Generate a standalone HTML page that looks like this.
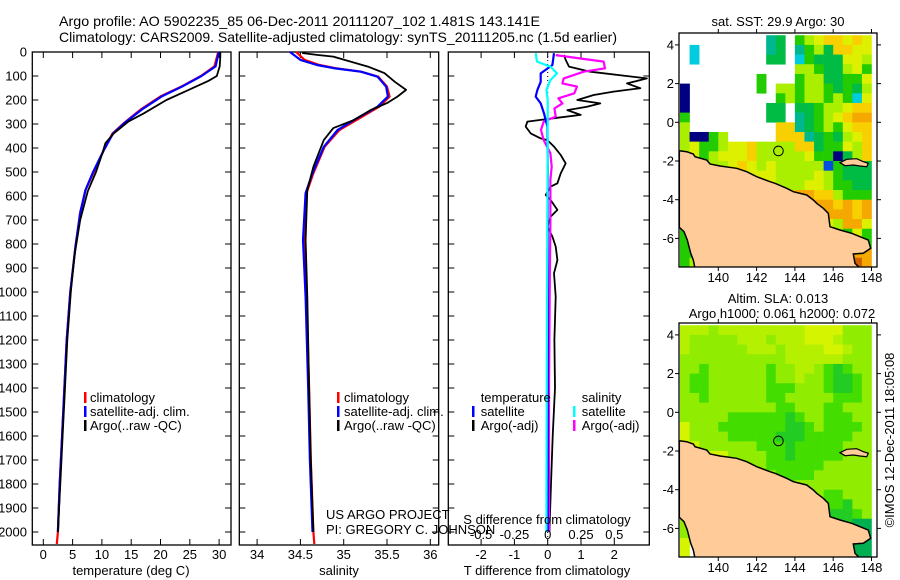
<!DOCTYPE html>
<html><head><meta charset="utf-8"><style>
html,body{margin:0;padding:0;background:#fff;}
svg{display:block;font-family:"Liberation Sans",sans-serif;}
</style></head><body>
<svg id="fig" width="900" height="580" viewBox="0 0 900 580" xmlns="http://www.w3.org/2000/svg">
<rect x="0" y="0" width="900" height="580" fill="#fff"/>
<text x="59" y="26" font-size="14" textLength="481" lengthAdjust="spacingAndGlyphs">Argo profile: AO 5902235_85 06-Dec-2011 20111207_102 1.481S 143.141E</text>
<text x="59" y="42" font-size="14" textLength="558" lengthAdjust="spacingAndGlyphs">Climatology: CARS2009. Satellite-adjusted climatology: synTS_20111205.nc (1.5d earlier)</text>
<g id="panels"></g>
<g id="maps"></g>
<text transform="translate(894,440) rotate(-90)" text-anchor="middle" font-size="13">©IMOS 12-Dec-2011 18:05:08</text>
</svg>
<script>
// ---------- data ----------
const depthTicks = [0,100,200,300,400,500,600,700,800,900,1000,1100,1200,1300,1400,1500,1600,1700,1800,1900,2000];
const tempTicks = [0,5,10,15,20,25,30];
const saltTicks = [34,34.5,35,35.5,36];
const saltTickLabels = ['34','34.5','35','35.5','36'];
const tdiffTicks = [-2,-1,0,1,2];
const sdiffTicks = [-0.5,-0.25,0,0.25,0.5];
const sdiffTickLabels = ['-0.5','-0.25','0','0.25','0.5'];

const climTDepth = [0,5,60,100,145,185,240,295,340,410,500,575,670,810,1000,1200,1400,1600,1800,2000,2050];
const climTemp   = [29.9,29.8,29.2,26.9,23.5,20.0,16.6,13.8,11.8,10.3,8.6,7.2,6.3,5.5,4.6,4.0,3.6,3.2,2.8,2.5,2.3];
const satTemp    = [30.0,29.9,29.4,27.0,23.6,20.2,16.8,13.9,11.9,10.3,8.5,7.2,6.3,5.5,4.6,4.0,3.6,3.2,2.8,2.5,2.4];
const argoTDepth = [0,20,60,100,120,160,200,255,290,340,380,420,500,580,700,850,1000,1200,1400,1600,1800,2000];
const argoTemp   = [30.2,30.2,30.1,29.6,28.2,24.6,21.0,17.2,14.5,12.0,10.6,10.1,9.0,7.6,6.3,5.3,4.7,4.1,3.7,3.3,2.9,2.5];

const climSDepth = [0,33,54,67,82,103,144,186,228,283,325,395,505,588,783,1020,1400,1700,2000,2050];
const satSalt    = [34.38,34.5,34.69,34.88,35.2,35.39,35.49,35.51,35.39,35.12,34.93,34.77,34.64,34.56,34.53,34.56,34.59,34.61,34.64,34.65];
const climSalt   = [34.45,34.55,34.72,34.9,35.2,35.4,35.5,35.53,35.41,35.15,34.95,34.78,34.65,34.57,34.54,34.57,34.6,34.62,34.65,34.66];
const argoSDepth = [4,12,19,40,61,88,124,158,186,213,242,283,317,367,478,575,783,1020,1400,1700,2000];
const argoSalt   = [34.52,34.69,34.88,35.08,35.28,35.47,35.59,35.72,35.62,35.5,35.31,35.12,34.88,34.77,34.65,34.58,34.56,34.58,34.6,34.62,34.65];

const argoTdDepth = [12,33,61,82,110,131,151,165,179,200,214,228,242,262,276,283,290,311,339,360,367,394,429,464,506,547,561,596,617,658,686,728,769,811,867,922,1019,1200,1400,1600,1800,2000];
const argoTdiff   = [0.49,0.54,0.64,1.28,2.98,2.38,2.78,1.98,1.38,0.89,1.58,1.18,0.59,0.99,0.19,-0.21,-0.61,-0.66,-0.51,-0.21,-0.01,0.19,0.39,0.54,0.39,0.29,0.09,-0.06,0.09,0.29,0.09,-0.01,0.14,0.24,0.29,0.19,0.24,0.2,0.22,0.15,0.1,0.05];
const argoSdDepth = [13,40,68,82,110,131,144,172,193,214,235,269,290,325,367,422,478,533,700,1000,1400,2000];
const argoSdiff   = [0.06,0.42,0.43,0.27,0.12,0.11,0.22,0.2,0.08,0.11,0.05,0.06,-0.03,-0.05,-0.03,0.02,0.03,0.02,0.02,0.015,0.01,0.01];
const satTdDepth = [5,54,89,124,158,186,214,256,311,500,1000,2000];
const satTdiff   = [0.19,0.14,-0.21,-0.21,-0.31,-0.36,-0.21,-0.11,-0.01,0,0,0];
const satSdDepth = [5,40,61,89,117,158,200,367,1000,2000];
const satSdiff   = [-0.09,-0.08,0.02,0.07,0.02,-0.01,0,0,-0.005,-0.01];

// map grids (0.5 deg cells, rows from lat 4.5 southward, cols from lon 138 eastward)
const sstGrid = [
".........tG.glyooyoy",
".c.......tG.tglGooyy",
".c.......GG.cgGGGyyl",
"............llgGGlyg",
"........g...gllGGggy",
"b.......g.llgllgGgGl",
"b.........glgllglgcy",
"b........GG.GGgllyoo",
"g........GG.tGglyoOO",
"l.........ootGglgyoo",
"lbbgl.....oootGgGlyo",
"lygglyyollllooGggylo",
"lyglyyyolllllyggbGlo",
"yyyllyoylylllllBgGGG",
"yyyllloyyyllllylgGGG",
"yyyyloooyylllyylggGG",
"yyyyyyyyooyoOOoolggg",
"yyyyyyyyyyyoOOOOoOoO",
"yyyyyyyyyyyyyyyOOOoO",
"...yyyyyyyyyyyyylOOy",
"gy..............lgyg",
"gg..............llgg",
"gg...............OOO",
"gl...............OrO"];
const slaGrid = [
"lllLlllllllllyyyyLLL",
"lLLLLLlllLlllyyylLLL",
"lLLLLLLlllLllllyylLL",
"LLLLLLLLLLLllllllLLL",
"LLgLLLLLLgLLllLgGgLL",
"LggLLLLLLgLLlLLgGGgL",
"LggLLLLLLgggLLLgGGgL",
"LLgLLLLLLggLLLLLgggL",
"LLLLLLLLLLggLLLggLLL",
"LLLLLggggggGgLLgggLL",
"yLLLgggggggGGgLggggL",
"yLLLLgggggGGGgggggLL",
"yyLLLLLLgggGgggggLLL",
"yyyyyLLLLggGgggggLLL",
"yyyyLLLLLggggggLLLLL",
"LLLLLLLLLLggggLLLLLL",
"LLLLLLLLLLLgLLLLLLLL",
"LLLLLLLLLLLLLLLggLLL",
"LLLLLLLLLLLLLLgggGLL",
"LLLLLLLLLLLLLLGGGGgL",
"LLLLLLLLLLLLLLLGGGdd",
"LLLLLLLLLLLLLLLGGddd",
"y...............dddd",
"y...............dddd"];
const lonTicks = [140,142,144,146,148];
const latTicks = [4,2,0,-2,-4,-6];
const argoLon = 143.141, argoLat = -1.481;

// ---------- helpers ----------
const NS='http://www.w3.org/2000/svg';
function el(tag, attrs, parent){const e=document.createElementNS(NS,tag);for(const k in attrs)e.setAttribute(k,attrs[k]);parent.appendChild(e);return e;}
const panels=document.getElementById('panels');
const Y0=52, PB=545;
const yD = d => Y0 + d*0.24;
const xT = t => 43.3 + t*5.86;
const xS = s => 300.4 + (s-34.5)*86.6;
const xTd = v => 547.7 + v*33.3;
const xSd = v => 547.7 + v*133.2;

function line(xs, ds, fx, color, name, w){
  const pts = xs.map((v,i)=> fx(v).toFixed(1)+','+yD(ds[i]).toFixed(1)).join(' ');
  const p = el('polyline',{points:pts,fill:'none',stroke:color,'stroke-width':w||2,'stroke-linejoin':'round'},panels);
  
  
}
function box(x0,x1,name){
  const r = el('rect',{x:x0,y:Y0,width:x1-x0,height:PB-Y0,fill:'none',stroke:'#000','stroke-width':1.3},panels);
  
  
  depthTicks.forEach(d=>{
    el('line',{x1:x0,x2:x0+6,y1:yD(d),y2:yD(d),stroke:'#000','stroke-width':1},panels);
    el('line',{x1:x1-6,x2:x1,y1:yD(d),y2:yD(d),stroke:'#000','stroke-width':1},panels);
  });
}
function xticks(vals, labels, fx, name, x0, x1){
  vals.forEach((v,i)=>{
    const x=fx(v);
    el('line',{x1:x,x2:x,y1:PB,y2:PB-6,stroke:'#000','stroke-width':1},panels);
    el('line',{x1:x,x2:x,y1:Y0,y2:Y0+6,stroke:'#000','stroke-width':1},panels);
    const t=el('text',{x:x,y:559,'font-size':13,'text-anchor':'middle'},panels);
    t.textContent=labels[i];
    
    
  });
}
function txt(x,y,s,name,opts){
  const t=el('text',Object.assign({x:x,y:y,'font-size':13},opts||{}),panels);
  t.textContent=s;
  
  
  return t;
}
function legBar(x,y,color,name){
  const r=el('rect',{x:x,y:y-10,width:2.5,height:11,fill:color},panels);
  
  
}

// y-axis labels
depthTicks.forEach(d=>{
  const t=txt(27,yD(d)+4.5,String(d),'depth-tick-label',{'text-anchor':'end'});
});

// panel 1 temperature
box(32.3,231,'temperature-panel');
xticks(tempTicks, tempTicks.map(String), xT, 'temperature-tick-label');
line(climTemp, climTDepth, xT, '#ff0000', 'climatology-temperature-line', 2.2);
line(satTemp.slice(0,20), climTDepth.slice(0,20), xT, '#0000ff', 'satellite-temperature-line', 2.2);
line(argoTemp, argoTDepth, xT, '#000', 'argo-temperature-line', 1.8);
txt(131,575,'temperature (deg C)','temperature-axis-title',{'text-anchor':'middle'});
legBar(84,402,'#ff0000','legend-climatology-swatch'); txt(90,402,'climatology','legend-climatology');
legBar(84,416,'#0000ff','legend-satellite-swatch'); txt(90,416,'satellite-adj. clim.','legend-satellite');
legBar(84,430,'#000','legend-argo-swatch'); txt(90,430,'Argo(..raw -QC)','legend-argo');

// panel 2 salinity
box(239.3,438.7,'salinity-panel');
xticks(saltTicks, saltTickLabels, xS, 'salinity-tick-label');
line(climSalt, climSDepth, xS, '#ff0000', 'climatology-salinity-line', 2.2);
line(satSalt.slice(0,19), climSDepth.slice(0,19), xS, '#0000ff', 'satellite-salinity-line', 2.2);
line(argoSalt, argoSDepth, xS, '#000', 'argo-salinity-line', 1.8);
txt(339,575,'salinity','salinity-axis-title',{'text-anchor':'middle'});
legBar(337,402,'#ff0000','legend2-climatology-swatch'); txt(344,402,'climatology','legend2-climatology');
legBar(337,416,'#0000ff','legend2-satellite-swatch'); txt(344,416,'satellite-adj. clim.','legend2-satellite');
legBar(337,430,'#000','legend2-argo-swatch'); txt(344,430,'Argo(..raw -QC)','legend2-argo');
txt(326,519,'US ARGO PROJECT','project-label');
txt(326,534,'PI: GREGORY C. JOHNSON','pi-label');

// panel 3 differences
box(448.3,649.3,'difference-panel');
xticks(tdiffTicks, tdiffTicks.map(String), xTd, 'tdiff-tick-label');
el('line',{x1:xTd(0),x2:xTd(0),y1:Y0,y2:PB,stroke:'#000','stroke-width':1,'stroke-dasharray':'1,3'},panels);
line(argoTdiff, argoTdDepth, xTd, '#000', 'argo-tdiff-line', 1.8);
line(argoSdiff, argoSdDepth, xSd, '#ff00ff', 'argo-sdiff-line', 2.2);
line(satTdiff, satTdDepth, xTd, '#0000ff', 'satellite-tdiff-line', 2.2);
line(satSdiff, satSdDepth, xSd, '#00ffff', 'satellite-sdiff-line', 2.2);
sdiffTicks.forEach((v,i)=>{ txt(xSd(v),539,sdiffTickLabels[i],'sdiff-tick-label',{'text-anchor':'middle'}); });
txt(547,524,'S difference from climatology','sdiff-axis-title',{'text-anchor':'middle'});
txt(547,575,'T difference from climatology','tdiff-axis-title',{'text-anchor':'middle'});
txt(480.7,402,'temperature','legend3-temperature-heading');
legBar(472,416,'#0000ff','legend3-tsat-swatch'); txt(480.7,416,'satellite','legend3-tsat');
legBar(472,430,'#000','legend3-targo-swatch'); txt(480.7,430,'Argo(-adj)','legend3-targo');
txt(581.7,402,'salinity','legend3-salinity-heading');
legBar(573,416,'#00ffff','legend3-ssat-swatch'); txt(581.7,416,'satellite','legend3-ssat');
legBar(573,430,'#ff00ff','legend3-sargo-swatch'); txt(581.7,430,'Argo(-adj)','legend3-sargo');

// ---------- maps ----------
const maps=document.getElementById('maps');
const sstColors={'.':null,t:'#00b890',G:'#00bb44',g:'#22cc00',l:'#aaee00',y:'#ddf000',o:'#f8d000',O:'#f4a800',r:'#d06000',c:'#00ccdd',b:'#000080',B:'#0050e0'};
const slaColors={'.':null,y:'#d4f400',l:'#b4f000',L:'#90ec00',g:'#44dd00',G:'#22cc22',d:'#00b050'};
const MX0=679, MX1=877;
const xLon = lon => 718.3 + (lon-140)*19.15;
function makeMap(grid, colors, top, name, circleName){
  const lat2y = lat => top + 89.3 - lat*19.35;
  const g=el('g',{},maps);
  
  
  const cid='clip'+top;
  const cp=el('clipPath',{id:cid},g);
  el('rect',{x:MX0,y:top,width:MX1-MX0,height:234},cp);
  const inner=el('g',{'clip-path':'url(#'+cid+')'},g);
  grid.forEach((row,j)=>{
    for(let i=0;i<row.length;i++){
      const c=colors[row[i]]; if(!c) continue;
      const lon=138+0.5*i, lat=4.5-0.5*j;
      const r=el('rect',{x:xLon(lon),y:lat2y(lat),width:xLon(lon+0.5)-xLon(lon)+0.3,height:lat2y(lat-0.5)-lat2y(lat)+0.3,fill:c},inner);
      
      
    }
  });
  const coast=[[58,452],[80,455],[100,462],[105,470],[140,480],[150,492],[180,498],[230,505],[260,515],[290,530],[330,545],[345,550],[380,565],[400,575],[440,585],[460,600],[470,610],[490,625],[505,640],[510,680],[540,690],[575,700],[600,710],[625,720],[632,745],[610,760],[580,762],[585,790],[600,805],[105,805],[100,780],[92,760],[82,720],[72,695],[58,682]];
  const pts=coast.map(p=>(660+p[0]/3).toFixed(1)+','+(top-33+p[1]/3).toFixed(1)).join(' ');
  const land=el('polygon',{points:pts,fill:'#ffcc99',stroke:'#000','stroke-width':1.5},inner);
  
  
  const isl=el('polygon',{points:[[540,488],[560,478],[590,476],[610,485],[625,490],[620,500],[600,498],[580,495],[555,497]].map(p=>(660+p[0]/3).toFixed(1)+','+(top-33+p[1]/3).toFixed(1)).join(' '),fill:'#ffcc99',stroke:'#000','stroke-width':1.2},inner);
  
  
  const c=el('circle',{cx:xLon(argoLon),cy:lat2y(argoLat),r:4.8,fill:'none',stroke:'#000','stroke-width':1},g);
  
  
  el('rect',{x:MX0,y:top,width:MX1-MX0,height:234,fill:'none',stroke:'#000','stroke-width':1.3},g);
  lonTicks.forEach(lon=>{
    const x=xLon(lon);
    el('line',{x1:x,x2:x,y1:top,y2:top-4,stroke:'#000'},g);
    el('line',{x1:x,x2:x,y1:top+234,y2:top+238,stroke:'#000'},g);
    const t=el('text',{x:x,y:top+249,'font-size':13,'text-anchor':'middle'},g);
    t.textContent=String(lon);
    
    
  });
  latTicks.forEach(lat=>{
    const y=lat2y(lat);
    el('line',{x1:MX0,x2:MX0-4,y1:y,y2:y,stroke:'#000'},g);
    el('line',{x1:MX1,x2:MX1+4,y1:y,y2:y,stroke:'#000'},g);
    const t=el('text',{x:674,y:y+4.5,'font-size':13,'text-anchor':'end'},g);
    t.textContent=String(lat);
    
    
  });
}
makeMap(sstGrid, sstColors, 33, 'sst-map', 'sst-argo-location');
makeMap(slaGrid, slaColors, 323, 'sla-map', 'sla-argo-location');
function mtxt(x,y,s,name){const t=el('text',{x:x,y:y,'font-size':13,'text-anchor':'middle'},maps);t.textContent=s;}
mtxt(778,26,'sat. SST: 29.9 Argo: 30','sst-map-title');
mtxt(778,303,'Altim. SLA: 0.013','sla-map-title');
mtxt(782,318,'Argo h1000: 0.061 h2000: 0.072','argo-height-title');
</script>
</body></html>
